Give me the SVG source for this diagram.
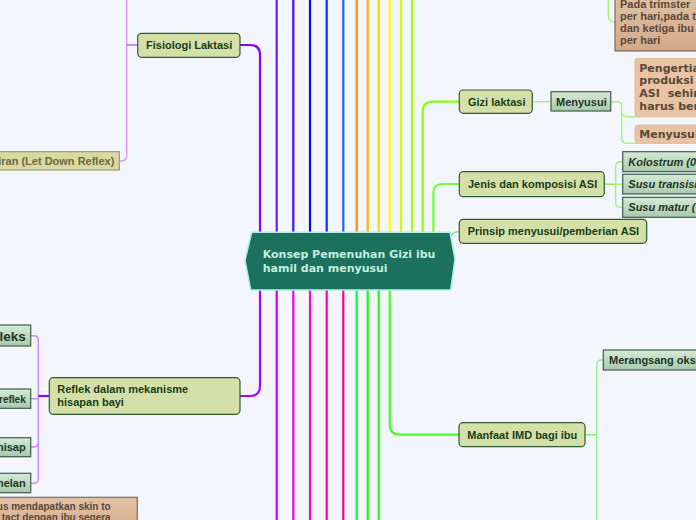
<svg xmlns="http://www.w3.org/2000/svg" width="696" height="520" viewBox="0 0 696 520">
<defs>
<linearGradient id="gg" x1="0" y1="0" x2="0" y2="1"><stop offset="0" stop-color="#d6eAd6"/><stop offset="1" stop-color="#a9c9ab"/></linearGradient>
<linearGradient id="pk" x1="0" y1="0" x2="0" y2="1"><stop offset="0" stop-color="#e2c2a6"/><stop offset="1" stop-color="#d2aa8a"/></linearGradient>
<style>
.bg{fill:#f3f6fd}
.main{fill:#d5e0a8;stroke:#2f5a33;stroke-width:1.2}
.sub{fill:url(#gg);stroke:#3c5c48;stroke-width:1.2}
.ld{fill:#d9d9a3;stroke:#8c8c5c;stroke-width:1}
.pk{fill:url(#pk);stroke:#7c6c5e;stroke-width:1.2}
.pl{fill:#e8c4a4;stroke:#e2bc9c;stroke-width:1}
.t{font-family:"Liberation Sans",Arial,sans-serif;font-weight:bold;font-size:11px;fill:#173d17}
.ts{font-family:"Liberation Sans",Arial,sans-serif;font-weight:bold;font-size:11px;fill:#1e3324}
.ti{font-style:italic}
.tp{font-family:"Liberation Sans",Arial,sans-serif;font-weight:bold;font-size:11px;fill:#5a4838}
.td{font-family:"DejaVu Sans",Verdana,sans-serif;font-weight:bold;font-size:11px;fill:#5a4838}
.tl{font-family:"Liberation Sans",Arial,sans-serif;font-weight:bold;font-size:11px;fill:#6a6a40}
.c{fill:none;stroke-width:2.2;stroke-linecap:butt}
.cl{fill:none;stroke-width:1.4}
</style>
</defs>
<rect class="bg" x="0" y="0" width="696" height="520"/>
<g id="connectors">
<path class="c" stroke="#8800ff" d="M240,45 H250 Q260,45 260,55 V232"/>
<line class="c" stroke="#6a1aff" x1="276.7" y1="0" x2="276.7" y2="232"/>
<line class="c" stroke="#4411ff" x1="293.3" y1="0" x2="293.3" y2="232"/>
<line class="c" stroke="#1100ff" x1="310" y1="0" x2="310" y2="232"/>
<line class="c" stroke="#0033ff" x1="326.7" y1="0" x2="326.7" y2="232"/>
<line class="c" stroke="#1a66ff" x1="343.3" y1="0" x2="343.3" y2="232"/>
<line class="c" stroke="#ff8c00" x1="356.7" y1="0" x2="356.7" y2="232"/>
<line class="c" stroke="#ffb000" x1="367.7" y1="0" x2="367.7" y2="232"/>
<line class="c" stroke="#ffd400" x1="378.7" y1="0" x2="378.7" y2="232"/>
<line class="c" stroke="#ffff00" x1="389.7" y1="0" x2="389.7" y2="232"/>
<line class="c" stroke="#ccff00" x1="401" y1="0" x2="401" y2="232"/>
<line class="c" stroke="#aaff00" x1="412" y1="0" x2="412" y2="232"/>
<path class="c" stroke="#88ff11" d="M422.7,232 V112 Q422.7,101.7 433,101.7 H459"/>
<path class="c" stroke="#77ff33" d="M433.3,232 V194 Q433.3,184 443,184 H459"/>
<path class="cl" stroke="#88ee66" d="M449,238 Q453,231.5 459,231.5"/>
<path class="c" stroke="#aa00ff" d="M240,396 H250 Q260,396 260,386 V290"/>
<line class="c" stroke="#cc00ff" x1="276.7" y1="290" x2="276.7" y2="520"/>
<line class="c" stroke="#ee00ff" x1="293.3" y1="290" x2="293.3" y2="520"/>
<line class="c" stroke="#ff00e6" x1="310" y1="290" x2="310" y2="520"/>
<line class="c" stroke="#ff00bb" x1="326.7" y1="290" x2="326.7" y2="520"/>
<line class="c" stroke="#ff0088" x1="343.3" y1="290" x2="343.3" y2="520"/>
<line class="c" stroke="#00ff33" x1="356.7" y1="290" x2="356.7" y2="520"/>
<line class="c" stroke="#11ff11" x1="367.7" y1="290" x2="367.7" y2="520"/>
<line class="c" stroke="#22ff00" x1="378.7" y1="290" x2="378.7" y2="520"/>
<path class="c" stroke="#44ff22" d="M389.7,290 V424 Q389.7,434.7 400,434.7 H459"/>
<path class="cl" stroke="#cc99ff" d="M126.7,0 V155 Q126.7,161 121,161 H119.3"/>
<line class="cl" stroke="#a070f0" x1="126.7" y1="45" x2="137.7" y2="45"/>
<path class="cl" stroke="#cc88ff" d="M30.7,335.7 H34 Q38.3,335.7 38.3,340 V479 Q38.3,483.3 34,483.3 H30.7"/>
<line class="cl" stroke="#cc88ff" x1="30.7" y1="398.7" x2="38.3" y2="398.7"/>
<path class="cl" stroke="#cc88ff" d="M30.7,447 H34 Q38.3,447 38.3,442"/>
<line class="c" stroke="#9900ff" x1="38.3" y1="396" x2="49.3" y2="396"/>
<line class="cl" stroke="#aaf080" x1="532.3" y1="101.7" x2="551" y2="101.7"/>
<path class="cl" stroke="#aaf080" d="M610.7,101.7 H617 Q621.7,101.7 621.7,106 V138 Q621.7,143.3 627,143.3 H640"/>
<path class="cl" stroke="#aaf080" d="M621.7,112 Q621.7,116.7 627,116.7 H640"/>
<path class="cl" stroke="#aaf080" d="M608.3,0 V16 Q608.3,21.7 614,21.7 H616"/>
<line class="cl" stroke="#88ee44" x1="604.3" y1="184.2" x2="615.7" y2="184.2"/>
<path class="cl" stroke="#aaf080" d="M622.7,161.7 H620 Q615.7,161.7 615.7,166 V203 Q615.7,207.3 620,207.3 H622.7"/>
<line class="cl" stroke="#aaf080" x1="615.7" y1="184.2" x2="622.7" y2="184.2"/>
<line class="cl" stroke="#88ee66" x1="585" y1="434.7" x2="596.7" y2="434.7"/>
<path class="cl" stroke="#99f090" d="M603.3,360 H601 Q596.7,360 596.7,365 V520"/>
</g>
<g id="center">
<polygon points="245,260.5 251.7,232.3 450,232.3 455,259 450.7,290 250.7,290" fill="#1b705e" stroke="#aef0e0" stroke-width="1.5"/>
<text x="262.7" y="258" font-family="'DejaVu Sans',Verdana,sans-serif" font-weight="bold" font-size="11" fill="#c4eedd">Konsep Pemenuhan Gizi ibu</text>
<text x="262.7" y="272" font-family="'DejaVu Sans',Verdana,sans-serif" font-weight="bold" font-size="11" fill="#c4eedd">hamil dan menyusui</text>
</g>
<g id="fisiologi"><rect class="main" x="137.7" y="33.3" width="102.3" height="24" rx="4"/><text class="t" x="146" y="49">Fisiologi Laktasi</text></g>
<g id="letdown"><rect class="ld" x="-10" y="151.7" width="129.3" height="18.3"/><text class="tl" x="114.3" y="165" text-anchor="end">iran (Let Down Reflex)</text></g>
<g id="pada"><rect class="pk" x="615" y="-10" width="100" height="61"/>
<text class="tp" x="620" y="7.5">Pada trimster </text>
<text class="tp" x="620" y="20">per hari,pada t</text>
<text class="tp" x="620" y="32.2">dan ketiga ibu</text>
<text class="tp" x="620" y="44.4">per hari</text></g>
<g id="pengertian"><rect class="pl" x="635" y="58.3" width="80" height="58.4" rx="3"/>
<text class="td" x="639.3" y="71.7">Pengertian</text>
<text class="td" x="639.3" y="84.4">produksi</text>
<text class="td" x="639.3" y="97" word-spacing="4">ASI sehin</text>
<text class="td" x="639.3" y="109.7">harus ber</text></g>
<g id="menyusui2"><rect class="pl" x="635" y="125" width="80" height="18.3" rx="3"/><text class="td" x="639.3" y="137.8">Menyusui</text></g>
<g id="gizi"><rect class="main" x="459.3" y="90" width="73" height="23.3" rx="4"/><text class="t" x="468" y="105.5">Gizi laktasi</text></g>
<g id="menyusui"><rect class="sub" x="551" y="91.7" width="59.7" height="19.3"/><text class="ts" x="556" y="105.5">Menyusui</text></g>
<g id="jenis"><rect class="main" x="459.3" y="171.7" width="145" height="25" rx="4"/><text class="t" x="468" y="188">Jenis dan komposisi ASI</text></g>
<g id="kolostrum"><rect class="sub" x="622.7" y="151.7" width="90" height="20"/><text class="ts ti" x="628.3" y="165.5">Kolostrum (0</text></g>
<g id="transisi"><rect class="sub" x="622.7" y="174.3" width="90" height="19.7"/><text class="ts ti" x="628.3" y="188">Susu transisi</text></g>
<g id="matur"><rect class="sub" x="622.7" y="197.3" width="90" height="20"/><text class="ts ti" x="628.3" y="211">Susu matur (</text></g>
<g id="prinsip"><rect class="main" x="459.3" y="219.3" width="187.4" height="24" rx="4"/><text class="t" x="467.7" y="235.3">Prinsip menyusui/pemberian ASI</text></g>
<g id="manfaat"><rect class="main" x="459" y="422.7" width="126" height="24" rx="4"/><text class="t" x="467.3" y="438.5">Manfaat IMD bagi ibu</text></g>
<g id="merangsang"><rect class="sub" x="603.3" y="350" width="110" height="20"/><text class="ts" x="609" y="364">Merangsang oks</text></g>
<g id="reflek"><rect class="main" x="49.3" y="377.7" width="190.7" height="36.6" rx="4"/>
<text class="t" x="57.3" y="393">Reflek dalam mekanisme</text>
<text class="t" x="57.3" y="405.5">hisapan bayi</text></g>
<g id="leks"><rect class="sub" x="-10" y="325" width="40.7" height="21"/><text class="ts" x="25.7" y="340.5" text-anchor="end" style="font-size:13.5px">leks</text></g>
<g id="reflek2"><rect class="sub" x="-10" y="389" width="40.7" height="19.3"/><text class="ts" x="25.7" y="402.5" text-anchor="end" style="font-size:10px">reflek</text></g>
<g id="nisap"><rect class="sub" x="-10" y="437.7" width="40.7" height="19"/><text class="ts" x="25.7" y="451" text-anchor="end">nisap</text></g>
<g id="nelan"><rect class="sub" x="-10" y="473.3" width="40.7" height="19.4"/><text class="ts" x="25.7" y="487" text-anchor="end">nelan</text></g>
<g id="skin"><rect class="pk" x="-10" y="497.3" width="147.3" height="40"/>
<text class="tp" x="110.7" y="509.5" text-anchor="end" style="font-size:10px">us mendapatkan skin to</text>
<text class="tp" x="110.7" y="521" text-anchor="end" style="font-size:10px">tact dengan ibu segera</text></g>
</svg>
